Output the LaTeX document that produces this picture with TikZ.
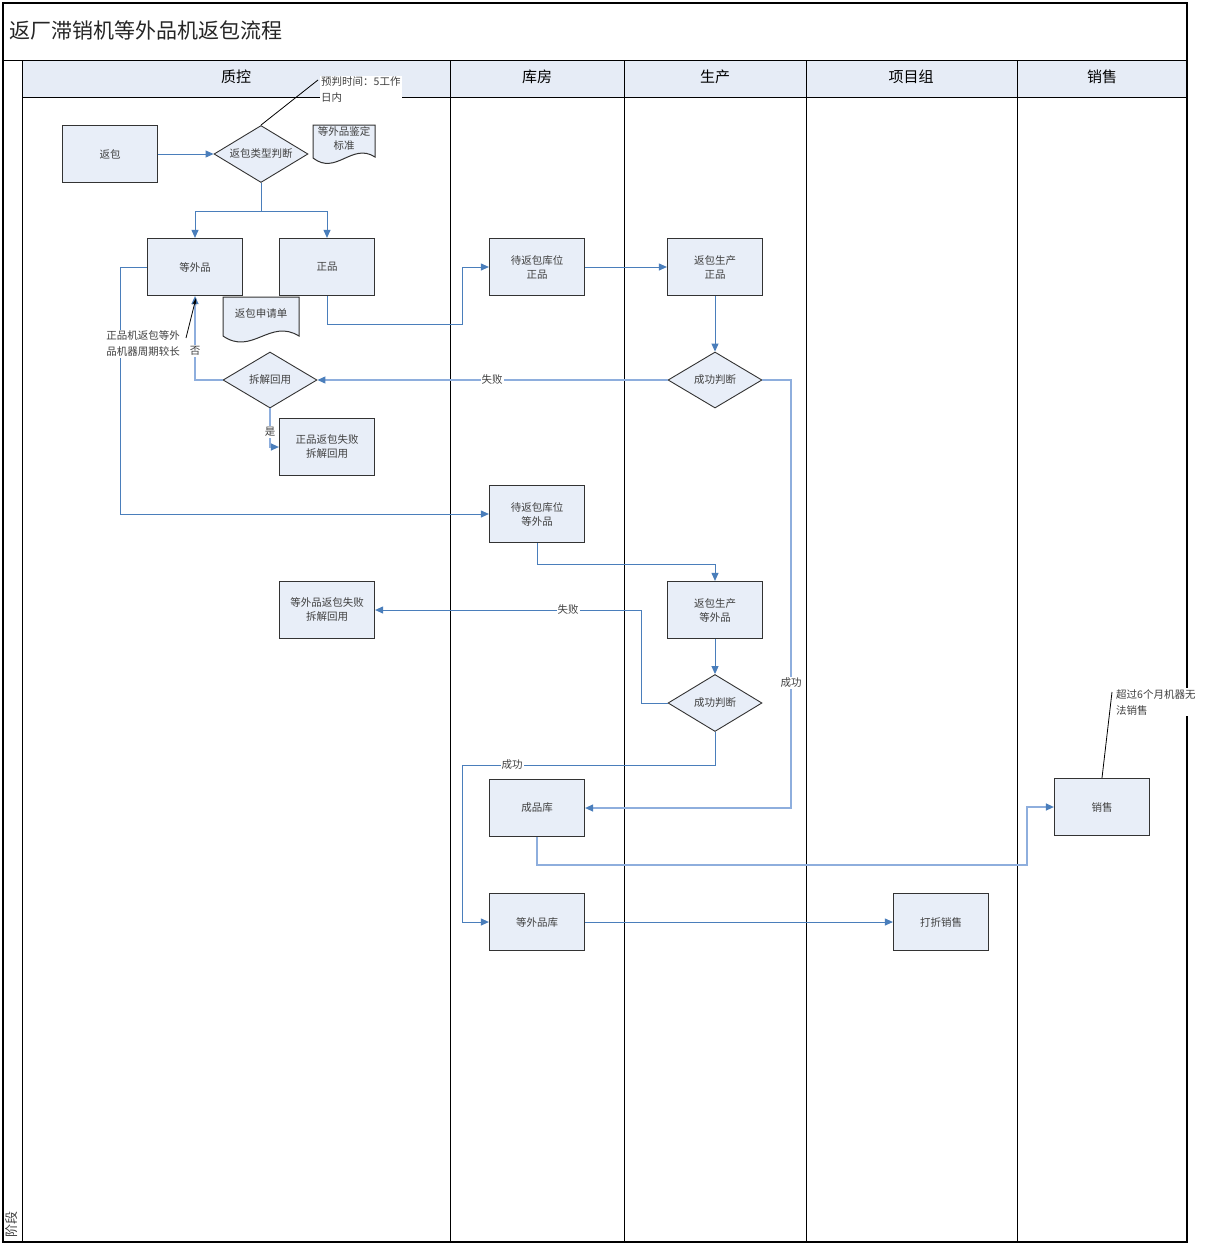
\documentclass[tikz,border=0pt]{standalone}
\usepackage{fontspec}
\setmainfont{Noto Sans CJK SC}
\usetikzlibrary{shapes.geometric,arrows.meta,calc}
\definecolor{nodefill}{HTML}{E8EEF8}
\definecolor{hdrfill}{HTML}{E6ECF6}
\definecolor{lk}{HTML}{4A7EBB}
\definecolor{lkl}{HTML}{8EAEDD}
\definecolor{txt}{HTML}{404040}
\tikzset{
 box/.style={draw=black!80, fill=nodefill, line width=1.2pt, minimum width=95pt, minimum height=57pt, inner sep=0pt, align=center, font=\fontsize{10.5}{14}\selectfont, text=txt},
 dia/.style={draw=black!80, fill=nodefill, line width=0.9pt, shape=diamond, aspect=1.65, minimum width=94pt, minimum height=57pt, inner sep=0pt, font=\fontsize{10.5}{14}\selectfont, text=txt},
 conn/.style={draw=lk, line width=1pt, -{Triangle[length=8pt,width=7pt,color=lk]}},
 connl/.style={conn, draw=lkl, line width=1.2pt},
 lbl/.style={fill=white, inner sep=1pt, font=\fontsize{10.5}{12}\selectfont, text=txt},
 hdr/.style={font=\fontsize{15}{18}\selectfont},
 lane/.style={draw=black, line width=1pt},
 doc/.style={draw=black!80, fill=nodefill, line width=1pt},
 doctext/.style={align=center, inner sep=0pt, font=\fontsize{10.5}{14}\selectfont, text=txt},
 note/.style={fill=white, inner sep=1pt, align=left, font=\fontsize{10.5}{16}\selectfont, text=txt},
 callout/.style={draw=black, line width=0.8pt},
}
\begin{document}
\begin{tikzpicture}[x=1pt,y=-1pt]
\useasboundingbox[fill=white] (0,0) rectangle (1208,1245);
% frame and lanes
\fill[hdrfill] (22,60) rectangle (1187,97);
\draw[lane] (3,60) -- (1187,60);
\draw[lane] (22,97) -- (1187,97);
\foreach \x in {22,450,624,806,1017} \draw[lane] (\x,60) -- (\x,1242);
\draw[lane, line width=1.4pt] (3,3) rectangle (1187,1242);
\node[anchor=west, font=\fontsize{21}{24}\selectfont, text=black!85] (title) at (6,30) {返厂滞销机等外品机返包流程};
\node[hdr] (h1) at (236,77) {质控};
\node[hdr] (h2) at (537,77) {库房};
\node[hdr] (h3) at (715,77) {生产};
\node[hdr] (h4) at (911,77) {项目组};
\node[hdr] (h5) at (1102,77) {销售};
\node[rotate=90, font=\fontsize{13}{14}\selectfont, text=txt] (phase) at (12,1224) {阶段};
% nodes
\node[box] (fb) at (110,154) {返包};
\node[dia] (d1) at (261,154) {返包类型判断};
\node[box] (dwp) at (195,267) {等外品};
\node[box] (zp) at (327,267) {正品};
\node[dia, minimum height=56pt] (d2) at (270,380) {拆解回用};
\node[box] (zf1) at (327,447) {正品返包失败\\拆解回用};
\node[box] (dzp) at (537,267) {待返包库位\\正品};
\node[box] (pzp) at (715,267) {返包生产\\正品};
\node[dia, minimum height=56pt] (d3) at (715,380) {成功判断};
\node[box] (dw2) at (537,514) {待返包库位\\等外品};
\node[box] (pw) at (715,610) {返包生产\\等外品};
\node[box] (zf2) at (327,610) {等外品返包失败\\拆解回用};
\node[dia] (d4) at (715,703) {成功判断};
\node[box] (cpk) at (537,808) {成品库};
\node[box] (dwk) at (537,922) {等外品库};
\node[box] (dzx) at (941,922) {打折销售};
\node[box] (xs) at (1102,807) {销售};
% documents
\draw[doc] (313,125) -- (375,125) -- (375,157) .. controls (352,142) and (336,176) .. (313,158) -- cycle;
\node[doctext] (std) at (344,138) {等外品鉴定\\标准};
\draw[doc] (223,297) -- (299,297) -- (299,336) .. controls (270,318) and (252,356) .. (223,336) -- cycle;
\node[doctext] (sqd) at (261,313) {返包申请单};
% connectors
\draw[conn] (fb.east) -- (d1.west);
\coordinate (j1) at (261,211);
\draw[conn] (d1.south) -- (j1) -| (dwp.north);
\draw[conn] (j1) -| (zp.north);
\draw[conn] (zp.south) |- (462,324) |- (dzp.west);
\draw[conn] (dzp.east) -- (pzp.west);
\draw[conn] (pzp.south) -- (d3.north);
\draw[connl] (d3.west) -- (d2.east);
\node[lbl] (l1) at (492,380) {失败};
\draw[connl] (d3.east) -- (791,380) |- (cpk.east);
\node[lbl] (l2) at (791,683) {成功};
\draw[connl] (d2.west) -| (dwp.south);
\node[lbl] (l3) at (195,351) {否};
\draw[connl] (d2.south) |- (zf1.west);
\node[lbl] (l4) at (270,432) {是};
\draw[conn] (dwp.west) -- (120,267) |- (dw2.west);
\draw[conn] (dw2.south) |- (715,564) -| (pw.north);
\draw[conn] (pw.south) -- (d4.north);
\draw[conn] (d4.west) -- (641,703) |- (zf2.east);
\node[lbl] (l5) at (568,610) {失败};
\draw[conn] (d4.south) |- (462,765) |- (dwk.west);
\node[lbl] (l6) at (512,765) {成功};
\draw[connl] (cpk.south) |- (1027,865) |- (xs.west);
\draw[conn] (dwk.east) -- (dzx.west);
% annotations
\draw[callout] (d1.north) -- (318,80);
\node[note, anchor=north west] (n1) at (320,76) {预判时间：5工作\\日内};
\draw[callout] (xs.north) -- (1112,692);
\node[note, anchor=north west] (n2) at (1115,688) {超过6个月机器无\\法销售};
\node[note, align=right, anchor=east] (n3) at (181,344) {正品机返包等外\\品机器周期较长};
\draw[callout, -{Stealth[length=7pt,width=4pt]}] (186,338) -- ($(dwp.south)+(1,2)$);
\end{tikzpicture}
\end{document}
